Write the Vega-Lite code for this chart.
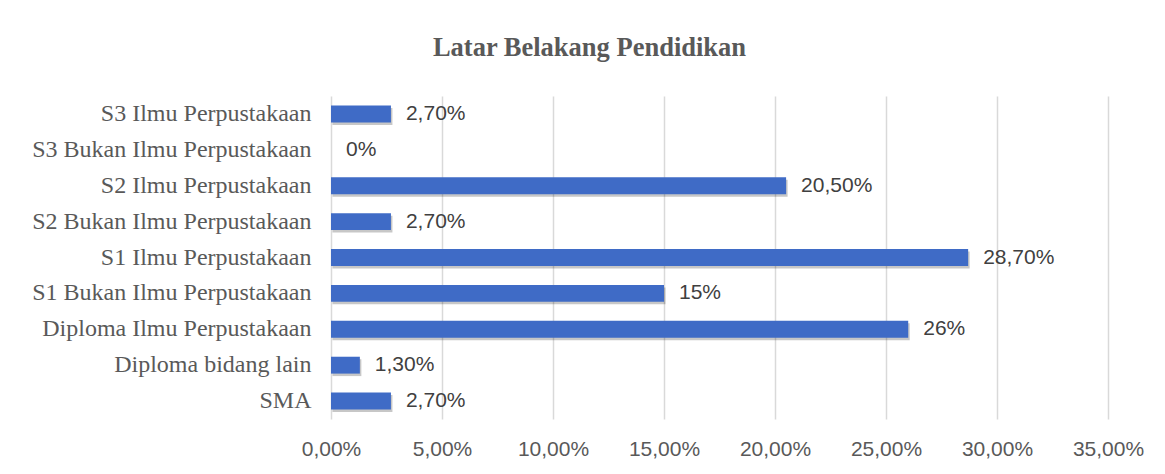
{
  "$schema": "https://vega.github.io/schema/vega-lite/v6.json",
  "width": 777,
  "height": 323,
  "autosize": {"type": "none"},
  "padding": {"left": 331, "top": 96, "right": 57, "bottom": 55},
  "background": "white",
  "title": {
    "text": "Latar Belakang Pendidikan",
    "font": "Liberation Serif",
    "fontSize": 26.5,
    "fontWeight": "bold",
    "color": "#595959",
    "anchor": "middle",
    "frame": "group",
    "dx": -130,
    "offset": 35
  },
  "data": {
    "values": [
      {"kategori": "S3 Ilmu Perpustakaan", "nilai": 2.7, "label": "2,70%"},
      {"kategori": "S3 Bukan Ilmu Perpustakaan", "nilai": 0, "label": "0%"},
      {"kategori": "S2 Ilmu Perpustakaan\u2005", "nilai": 20.5, "label": "20,50%"},
      {"kategori": "S2 Bukan Ilmu Perpustakaan\u2005", "nilai": 2.7, "label": "2,70%"},
      {"kategori": "S1 Ilmu Perpustakaan", "nilai": 28.7, "label": "28,70%"},
      {"kategori": "S1 Bukan Ilmu Perpustakaan\u2005", "nilai": 15, "label": "15%"},
      {"kategori": "Diploma Ilmu Perpustakaan\u2005", "nilai": 26, "label": "26%"},
      {"kategori": "Diploma bidang lain", "nilai": 1.3, "label": "1,30%"},
      {"kategori": "SMA", "nilai": 2.7, "label": "2,70%"}
    ]
  },
  "encoding": {
    "y": {
      "field": "kategori",
      "type": "nominal",
      "sort": null,
      "scale": {"paddingInner": 0.53, "paddingOuter": 0.265},
      "axis": {
        "title": null,
        "domain": false,
        "ticks": false,
        "tickSize": 0,
        "labelPadding": 20,
        "labelFont": "Liberation Serif",
        "labelFontSize": 24,
        "labelColor": "#595959",
        "labelLimit": 400
      }
    },
    "x": {
      "field": "nilai",
      "type": "quantitative",
      "scale": {"domain": [0, 35], "nice": false},
      "axis": {
        "title": null,
        "values": [0, 5, 10, 15, 20, 25, 30, 35],
        "labelExpr": "replace(format(datum.value / 100, '.2%'), '.', ',')",
        "labelFlush": false,
        "labelOverlap": false,
        "domain": false,
        "ticks": false,
        "tickSize": 0,
        "labelPadding": 19,
        "labelFont": "Liberation Sans",
        "labelFontSize": 21,
        "labelColor": "#595959",
        "grid": true,
        "gridColor": "#d9d9d9",
        "gridWidth": 1.5
      }
    }
  },
  "layer": [
    {
      "mark": {"type": "bar", "color": "#000000", "opacity": 0.22, "xOffset": 1.5, "yOffset": 2.5},
      "encoding": {}
    },
    {
      "mark": {"type": "bar", "color": "#3F6BC6"},
      "encoding": {}
    },
    {
      "mark": {"type": "text", "align": "left", "baseline": "middle", "dx": 15, "font": "Liberation Sans", "fontSize": 21, "color": "#404040"},
      "encoding": {"text": {"field": "label"}}
    }
  ],
  "config": {"view": {"stroke": null}}
}
